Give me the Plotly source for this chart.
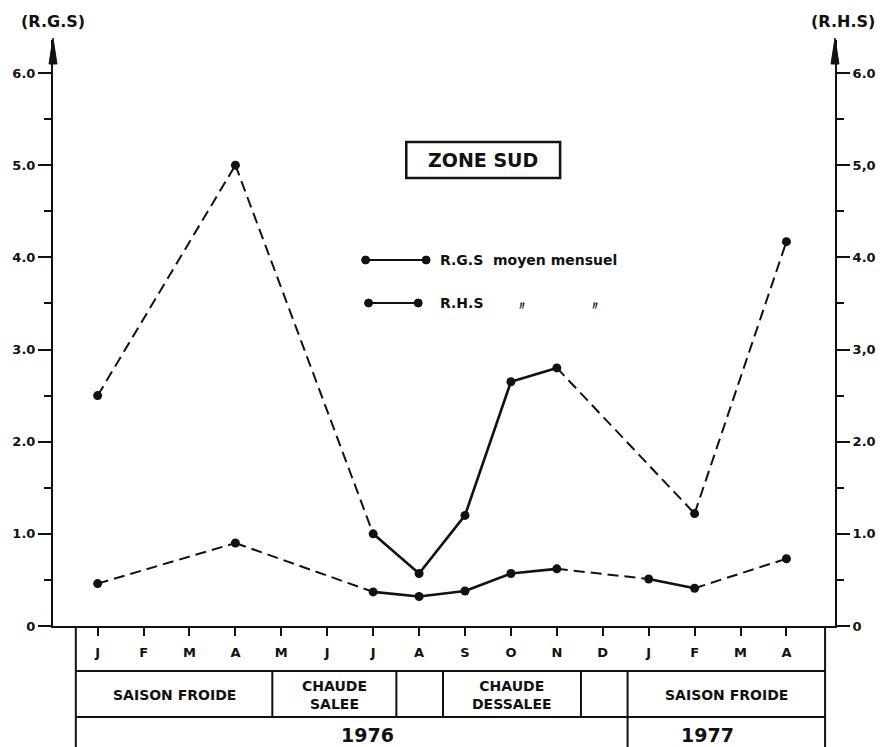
import plotly.graph_objects as go

# ---------------- data ----------------
months = ["J", "F", "M", "A", "M", "J", "J", "A", "S", "O", "N", "D", "J", "F", "M", "A"]
rgs_month_idx = [0, 3, 6, 7, 8, 9, 10, 13, 15]
rgs_values = [2.5, 5.0, 1.0, 0.57, 1.2, 2.65, 2.8, 1.22, 4.17]
rhs_month_idx = [0, 3, 6, 7, 8, 9, 10, 12, 13, 15]
rhs_values = [0.46, 0.9, 0.37, 0.32, 0.38, 0.57, 0.62, 0.51, 0.41, 0.73]
y_tickvals = [0, 1, 2, 3, 4, 5, 6]
left_ticktext = ["0", "1.0", "2.0", "3.0", "4.0", "5.0", "6.0"]
right_ticktext = ["0", "1.0", "2.0", "3,0", "4.0", "5,0", "6.0"]
season_labels = ["SAISON FROIDE", "CHAUDE<br>SALEE", "", "CHAUDE<br>DESSALEE", "", "SAISON FROIDE"]
year_labels = ["1976", "1977"]

# ---------------- geometry helpers (layout only) ----------------
W, H = 888, 747
L, R, T, B = 52, 48, 40, 121
PW, PH = W - L - R, H - T - B


def px(p):
    return (p - L) / PW


def py(p):
    return (H - B - p) / PH


INK = "#111111"
FONT = "DejaVu Sans"


def split_segments(idx, vals):
    sx, sy, dx, dy = [], [], [], []
    for i in range(len(idx) - 1):
        if idx[i + 1] - idx[i] == 1:
            sx += [idx[i], idx[i + 1], None]
            sy += [vals[i], vals[i + 1], None]
        else:
            dx += [idx[i], idx[i + 1], None]
            dy += [vals[i], vals[i + 1], None]
    return sx, sy, dx, dy


fig = go.Figure()
for idx, vals, yax in [(rgs_month_idx, rgs_values, "y"), (rhs_month_idx, rhs_values, "y2")]:
    sx, sy, dx, dy = split_segments(idx, vals)
    fig.add_trace(go.Scatter(x=sx, y=sy, mode="lines", yaxis=yax, showlegend=False,
                             line=dict(color=INK, width=2.6), hoverinfo="skip"))
    fig.add_trace(go.Scatter(x=dx, y=dy, mode="lines", yaxis=yax, showlegend=False,
                             line=dict(color=INK, width=2, dash="11px,6px"), hoverinfo="skip"))
    fig.add_trace(go.Scatter(x=idx, y=vals, mode="markers", yaxis=yax, showlegend=False,
                             marker=dict(color=INK, size=9)))

ymax = (H - B - T) / ((626 - 73) / 6.0)
x0 = -45 / 46.27
x1 = x0 + PW / 46.27

tickfont = dict(family=FONT, size=13, color=INK, weight="bold")
yaxis_common = dict(range=[0, ymax], tickvals=y_tickvals, ticks="outside", ticklen=13,
                    tickwidth=2, tickcolor=INK, showline=True, linewidth=2, linecolor=INK,
                    showgrid=False, zeroline=False, tickfont=tickfont, fixedrange=True,
                    minor=dict(tickvals=[0.5, 1.5, 2.5, 3.5, 4.5, 5.5], ticks="outside",
                               ticklen=7, tickwidth=1.5, tickcolor=INK))

shapes = []
# axis arrows
for ax_x in (L, W - R):
    shapes.append(dict(type="path", xref="paper", yref="paper", fillcolor=INK,
                       line=dict(color=INK, width=1),
                       path=f"M {px(ax_x-4)},{py(64)} L {px(ax_x+4)},{py(64)} L {px(ax_x)},{py(38)} Z"))


def hline(xa, xb, yy):
    shapes.append(dict(type="line", xref="paper", yref="paper", x0=px(xa), x1=px(xb),
                       y0=py(yy), y1=py(yy), line=dict(color=INK, width=2)))


def vline(xx, ya, yb):
    shapes.append(dict(type="line", xref="paper", yref="paper", x0=px(xx), x1=px(xx),
                       y0=py(ya), y1=py(yb), line=dict(color=INK, width=2)))


# table
hline(75, 830, 671)
hline(75, 830, 717)
vline(75, 626, 747)
vline(830, 626, 747)
season_edges = [75, 273, 398, 445, 584, 631, 830]
for e in season_edges[1:-1]:
    vline(e, 671, 717)
vline(631, 717, 747)
# ZONE SUD box
shapes.append(dict(type="rect", xref="paper", yref="paper", x0=px(408), x1=px(563),
                   y0=py(178), y1=py(142), line=dict(color=INK, width=2.5)))
# legend samples
for (xa, xb, yy) in [(367, 428, 260), (370, 420, 303)]:
    hline(xa, xb, yy)
    for xx in (xa, xb):
        shapes.append(dict(type="circle", xref="paper", yref="paper",
                           x0=px(xx - 4), x1=px(xx + 4), y0=py(yy + 4), y1=py(yy - 4),
                           fillcolor=INK, line=dict(color=INK, width=1)))

annotations = []


def txt(s, x, y, size=12, xanchor="center"):
    annotations.append(dict(text=s, x=px(x), y=py(y), xref="paper", yref="paper",
                            xanchor=xanchor, yanchor="middle", showarrow=False,
                            font=dict(family=FONT, size=size, color=INK, weight="bold")))


txt("(R.G.S)", 52, 22, 16)
txt("(R.H.S)", 848, 22, 16)
txt("ZONE SUD", 485.5, 160, 19)
txt("R.G.S  moyen mensuel", 440, 260, 14, "left")
txt("R.H.S", 440, 303, 14, "left")
txt("\u3003", 525, 306, 12)
txt("\u3003", 598, 306, 12)
for i, lab in enumerate(season_labels):
    if lab:
        txt(lab, (season_edges[i] + season_edges[i + 1]) / 2, 695, 14)
txt(year_labels[0], 369, 735, 19)
txt(year_labels[1], 712, 735, 19)

fig.update_layout(
    width=W, height=H, margin=dict(l=L, r=R, t=T, b=B),
    paper_bgcolor="white", plot_bgcolor="white",
    xaxis=dict(range=[x0, x1], tickvals=list(range(len(months))), ticktext=months,
               ticks="outside", ticklen=8, tickwidth=2, tickcolor=INK, showline=True,
               linewidth=2, linecolor=INK, showgrid=False, zeroline=False,
               tickfont=dict(family=FONT, size=13, color=INK, weight="bold"),
               ticklabelstandoff=5, fixedrange=True),
    yaxis=dict(**yaxis_common, ticktext=left_ticktext, side="left"),
    yaxis2=dict(**yaxis_common, ticktext=right_ticktext, side="right", overlaying="y",
                anchor="x"),
    shapes=shapes, annotations=annotations, showlegend=False,
)

fig.write_html("out.html")
